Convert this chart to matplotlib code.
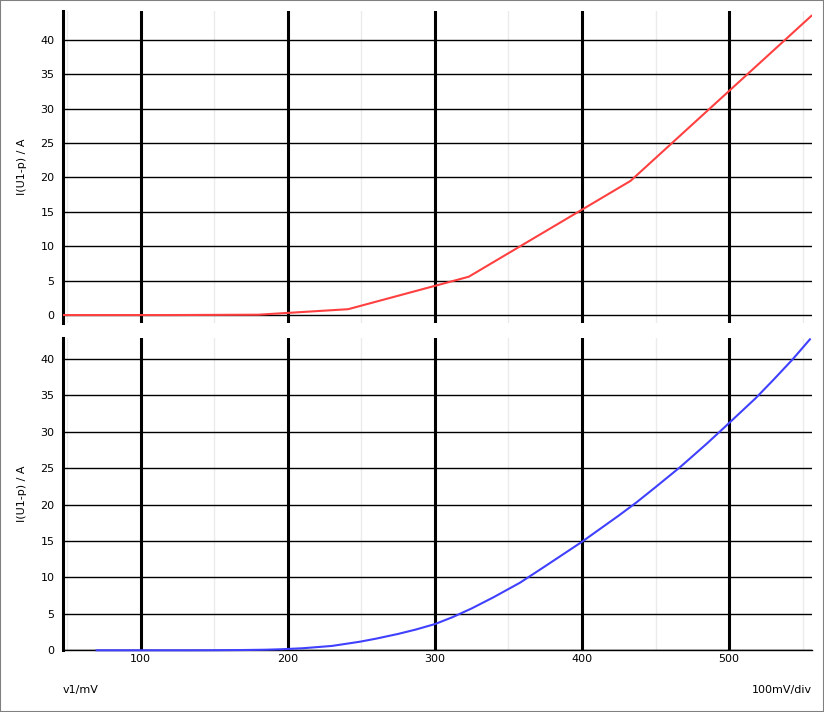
import matplotlib
matplotlib.use("Agg")
import matplotlib.pyplot as plt
from matplotlib.patches import Rectangle

# ---- data ----
red_v = [47, 120, 180, 241, 323, 433, 556]
red_i = [0.0, 0.0, 0.05, 0.85, 5.57, 19.5, 43.5]

blue_v = [70, 100, 130, 150, 170, 185, 195, 210, 230, 249, 260, 275, 287, 300, 312, 325,
          340, 358, 375, 400, 425, 437, 450, 467, 485, 500, 518, 530, 543, 555]
blue_i = [0.0, 0.0, 0.0, 0.01, 0.04, 0.08, 0.14, 0.28, 0.6, 1.18, 1.6, 2.25, 2.85, 3.6, 4.55, 5.75,
          7.3, 9.3, 11.55, 14.9, 18.5, 20.3, 22.4, 25.2, 28.4, 31.2, 34.6, 37.1, 39.9, 42.7]

x_major = [100, 200, 300, 400, 500]
x_minor = [50, 150, 250, 350, 450, 550]
y_ticks = [0, 5, 10, 15, 20, 25, 30, 35, 40]

ylabel_text = "I(U1-p) / A"
xlabel_text = "v1/mV"
div_text = "100mV/div"

W, H = 824, 712
fig = plt.figure(figsize=(W / 100, H / 100), dpi=100)
fig.patch.set_facecolor("white")

left = 63 / W
width = (811.7 - 63) / W
ax_top = fig.add_axes([left, 1 - 323.3 / H, width, (323.3 - 11) / H])
ax_bot = fig.add_axes([left, 1 - 650.3 / H, width, (650.3 - 338.3) / H])

def style(ax, ylim, show_x):
    ax.set_xlim(47.1, 556.2)
    ax.set_ylim(*ylim)
    ax.set_axisbelow(True)
    for s in ["top", "right", "bottom"]:
        ax.spines[s].set_visible(False)
    ax.spines["left"].set_linewidth(2.2)
    ax.spines["left"].set_color("black")
    ax.set_xticks(x_major)
    ax.set_xticks(x_minor, minor=True)
    ax.set_yticks(y_ticks)
    ax.grid(True, which="major", axis="x", color="black", linewidth=2.2)
    ax.grid(True, which="minor", axis="x", color="#ebebeb", linewidth=1.0)
    ax.grid(True, which="major", axis="y", color="black", linewidth=1.0)
    ax.tick_params(axis="both", which="both", length=0, labelsize=8)
    ax.tick_params(axis="y", pad=6)
    ax.tick_params(axis="x", pad=3)
    if not show_x:
        ax.set_xticklabels([])

style(ax_top, (-1.2, 44.2), False)
style(ax_bot, (0, 42.84), True)
ax_bot.spines["bottom"].set_visible(True)
ax_bot.spines["bottom"].set_linewidth(1.0)
ax_bot.spines["bottom"].set_color("black")

ax_top.plot(red_v, red_i, color="#ff4040", linewidth=1.5, zorder=3)
ax_bot.plot(blue_v, blue_i, color="#4040ff", linewidth=1.5, zorder=3, clip_on=False)

fig.text(22 / W, 1 - 167 / H, ylabel_text, rotation=90, ha="center", va="center", fontsize=8)
fig.text(22 / W, 1 - 494 / H, ylabel_text, rotation=90, ha="center", va="center", fontsize=8)
fig.text(63 / W, 1 - 690.5 / H, xlabel_text, ha="left", va="center", fontsize=8)
fig.text(811.7 / W, 1 - 690.5 / H, div_text, ha="right", va="center", fontsize=8)

fig.patches.append(Rectangle((0, 0), 1, 1, transform=fig.transFigure, fill=False,
                             edgecolor="#808080", linewidth=1.5, zorder=10))

fig.savefig("out.png", dpi=100, facecolor="white")
